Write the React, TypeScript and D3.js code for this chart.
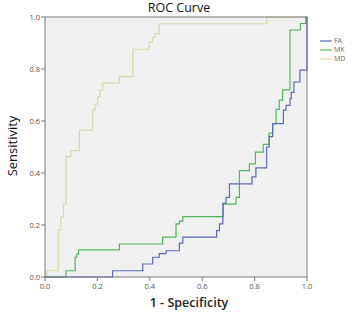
import React from "react";
import * as d3 from "d3";

const seriesNames = ["FA", "MK", "MD"];
const seriesColors = ["#5b6bb6", "#55b55c", "#dcd7a9"];

// ROC points: at each fpr the curve rises to tpr (step-after)
const faFpr = [0, 0.258, 0.373, 0.411, 0.436, 0.462, 0.513, 0.526, 0.655, 0.666, 0.679, 0.691, 0.704, 0.79, 0.805, 0.846, 0.856, 0.869, 0.91, 0.92, 0.935, 0.94, 0.95, 0.973, 1.0];
const faTpr = [0, 0.024, 0.05, 0.076, 0.09, 0.101, 0.13, 0.153, 0.178, 0.204, 0.283, 0.306, 0.358, 0.385, 0.42, 0.5, 0.54, 0.59, 0.642, 0.66, 0.686, 0.71, 0.75, 0.796, 1.0];

const mkFpr = [0, 0.08, 0.115, 0.121, 0.128, 0.284, 0.449, 0.5, 0.513, 0.526, 0.68, 0.729, 0.742, 0.78, 0.803, 0.833, 0.855, 0.869, 0.882, 0.894, 0.907, 0.935, 0.975, 0.995, 1.0];
const mkTpr = [0, 0.024, 0.076, 0.088, 0.104, 0.127, 0.153, 0.204, 0.215, 0.232, 0.28, 0.306, 0.409, 0.435, 0.48, 0.51, 0.553, 0.59, 0.645, 0.68, 0.72, 0.95, 0.975, 1.0, 1.0];

const mdFpr = [0, 0.006, 0.051, 0.06, 0.07, 0.08, 0.098, 0.131, 0.182, 0.191, 0.201, 0.21, 0.22, 0.284, 0.335, 0.398, 0.411, 0.42, 0.436, 0.846, 1.0];
const mdTpr = [0, 0.024, 0.181, 0.23, 0.281, 0.463, 0.486, 0.565, 0.642, 0.665, 0.694, 0.719, 0.747, 0.771, 0.876, 0.903, 0.922, 0.935, 0.974, 1.0, 1.0];

const tickValues = [0, 0.2, 0.4, 0.6, 0.8, 1.0];

const W = 353;
const H = 319;
const left = 45;
const right = 307;
const top = 17;
const bottom = 277;

export default function App() {
  const x = d3.scaleLinear().domain([0, 1]).range([left, right]);
  const y = d3.scaleLinear().domain([0, 1]).range([bottom, top]);
  const line = d3
    .line<[number, number]>()
    .x((d) => x(d[0]))
    .y((d) => y(d[1]))
    .curve(d3.curveStepAfter);

  const series = [
    { name: seriesNames[0], color: seriesColors[0], pts: faFpr.map((f, i) => [f, faTpr[i]] as [number, number]) },
    { name: seriesNames[1], color: seriesColors[1], pts: mkFpr.map((f, i) => [f, mkTpr[i]] as [number, number]) },
    { name: seriesNames[2], color: seriesColors[2], pts: mdFpr.map((f, i) => [f, mdTpr[i]] as [number, number]) },
  ];
  const font = "'Open Sans', 'Liberation Sans', sans-serif";
  const fmt = d3.format(".1f");

  return (
    <svg
      width={W}
      height={H}
      style={{ position: "absolute", left: 0, top: 0, background: "#fff" }}
      fontFamily={font}
    >
      <rect x={0} y={0} width={W} height={H} fill="#fff" />
      <rect x={left} y={top} width={right - left} height={bottom - top} fill="#f0f0f0" />
      {series
        .slice()
        .reverse()
        .map((s) => (
          <path key={s.name} d={line(s.pts) || ""} fill="none" stroke={s.color} strokeWidth={1.2} />
        ))}
      <rect x={left} y={top} width={right - left} height={bottom - top} fill="none" stroke="#7a7a7a" strokeWidth={1} />
      {tickValues.map((t) => (
        <g key={"y" + t}>
          <line x1={left - 4} x2={left} y1={y(t)} y2={y(t)} stroke="#7a7a7a" />
          <text x={left - 5} y={y(t)} dy="0.35em" textAnchor="end" fontSize={7.5} fill="#555">
            {fmt(t)}
          </text>
        </g>
      ))}
      {tickValues.map((t) => (
        <g key={"x" + t}>
          <line x1={x(t)} x2={x(t)} y1={bottom} y2={bottom + 4} stroke="#7a7a7a" />
          <text x={x(t)} y={bottom + 12} textAnchor="middle" fontSize={7.5} fill="#555">
            {fmt(t)}
          </text>
        </g>
      ))}
      <text x={179} y={12} textAnchor="middle" fontSize={12.5} fontWeight={400} fill="#111">
        ROC Curve
      </text>
      <text x={189} y={307} textAnchor="middle" fontSize={12.5} fontWeight={600} fill="#222">
        1 - Specificity
      </text>
      <text
        transform={`translate(17,146) rotate(-90)`}
        textAnchor="middle"
        fontSize={13}
        fontWeight={400}
        fill="#111"
      >
        Sensitivity
      </text>
      {series.map((s, i) => (
        <g key={"lg" + s.name}>
          <line x1={320} x2={332} y1={41 + i * 9} y2={41 + i * 9} stroke={s.color} strokeWidth={1.2} />
          <text x={334} y={41 + i * 9} dy="0.35em" fontSize={7} fill="#666">
            {s.name}
          </text>
        </g>
      ))}
    </svg>
  );
}
